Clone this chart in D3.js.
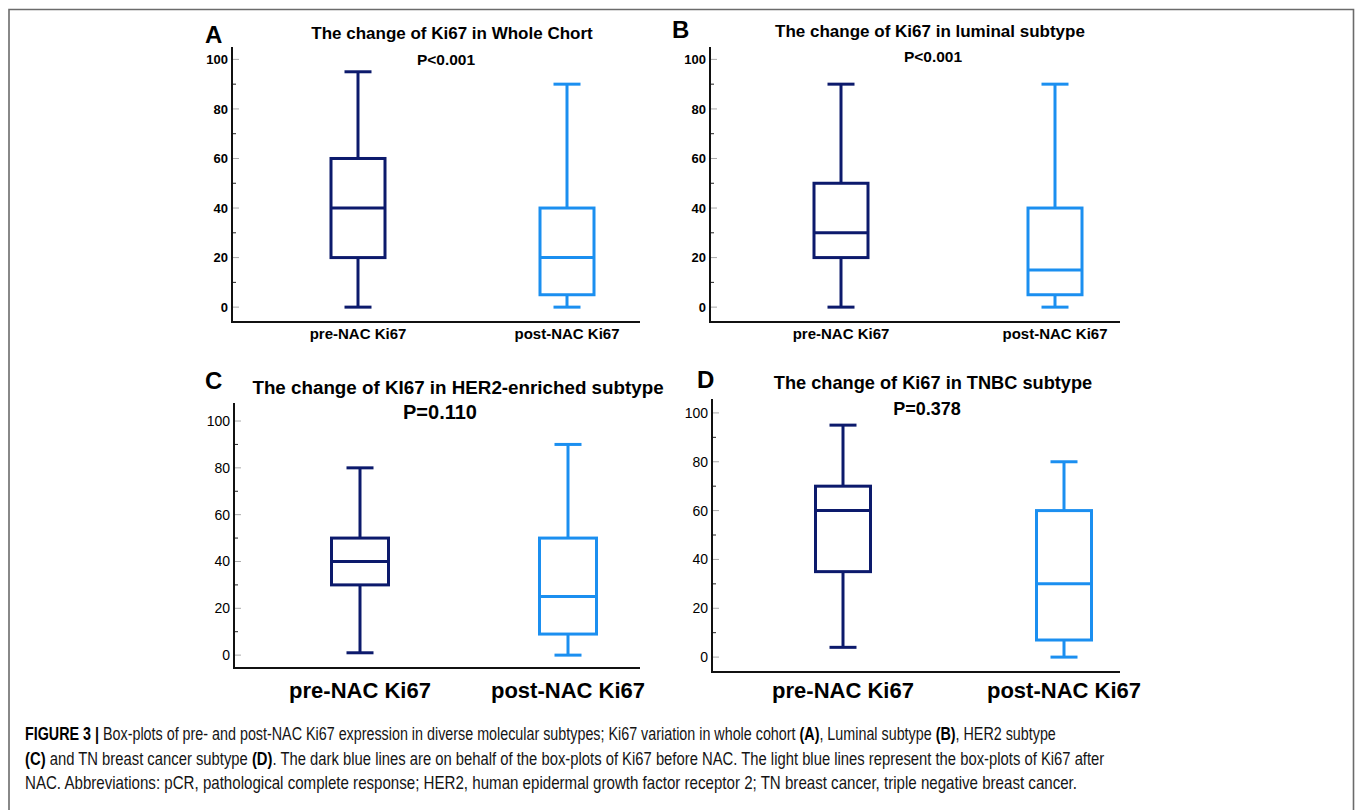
<!DOCTYPE html>
<html>
<head>
<meta charset="utf-8">
<script src="https://cdn.jsdelivr.net/npm/d3@7"></script>
<style>
  html, body { margin: 0; padding: 0; background: #fff; }
  svg { display: block; font-family: 'Liberation Sans', Arial, sans-serif; }
</style>
</head>
<body>
<div id="chart"></div>
<script>
'use strict';

// ------------ DATA ---------------- //

const CATEGORIES = ['pre-NAC Ki67', 'post-NAC Ki67'];
const LETTERS    = ['A', 'B', 'C', 'D'];
const TITLES     = [
    'The change of Ki67 in Whole Chort',
    'The change of Ki67 in luminal subtype',
    'The change of KI67 in HER2-enriched subtype',
    'The change of Ki67 in TNBC subtype'
];
const P_VALUES   = ['P<0.001', 'P<0.001', 'P=0.110', 'P=0.378'];

// [min, q1, median, q3, max]
const PRE_STATS  = [[0, 20, 40, 60, 95], [0, 20, 30, 50, 90], [1, 30, 40, 50, 80], [4, 35, 60, 70, 95]];
const POST_STATS = [[0, 5, 20, 40, 90], [0, 5, 15, 40, 90], [0, 9, 25, 50, 90], [0, 7, 30, 60, 80]];

const Y_TICKS       = [0, 20, 40, 60, 80, 100];
const Y_MINOR_TICKS = [10, 30, 50, 70, 90];

const CAPTION = [
    [['FIGURE 3 | ', true], ['Box-plots of pre- and post-NAC Ki67 expression in diverse molecular subtypes; Ki67 variation in whole cohort ', false],
     ['(A)', true], [', Luminal subtype ', false], ['(B)', true], [', HER2 subtype', false]],
    [['(C)', true], [' and TN breast cancer subtype ', false], ['(D)', true],
     ['. The dark blue lines are on behalf of the box-plots of Ki67 before NAC. The light blue lines represent the box-plots of Ki67 after', false]],
    [['NAC. Abbreviations: pCR, pathological complete response; HER2, human epidermal growth factor receptor 2; TN breast cancer, triple negative breast cancer.', false]]
];

// ------------ LAYOUT ---------------- //

const WIDTH  = 1357;
const HEIGHT = 810;
const COLORS = ['#0c1a6c', '#1b8ff0'];

const PANELS = [
    {axisX: 232, right: 640,  top: 47,  bottom: 322, domain: [-6, 105],     centers: [358, 567],  boxW: 54, capW: 27,
     tick: [13, 'bold'], titleSize: 17, pSize: 15.5, catSize: 15,
     letter: [205, 43], title: [452, 39], p: [446, 65], cat: 339},
    {axisX: 710, right: 1120, top: 47,  bottom: 322, domain: [-6, 105],     centers: [841, 1055], boxW: 54, capW: 27,
     tick: [13, 'bold'], titleSize: 17, pSize: 15.5, catSize: 15,
     letter: [672, 38], title: [930, 37], p: [933, 62], cat: 339},
    {axisX: 234, right: 640,  top: 403, bottom: 668, domain: [-5.5, 107.7], centers: [360, 568],  boxW: 57, capW: 27,
     tick: [14, 'normal'], titleSize: 18.8, pSize: 20, catSize: 22,
     letter: [205, 389], title: [458, 394], p: [440, 419], cat: 698},
    {axisX: 712, right: 1120, top: 399, bottom: 672, domain: [-6.1, 105.7], centers: [843, 1064], boxW: 55, capW: 27,
     tick: [14, 'normal'], titleSize: 18.2, pSize: 18, catSize: 22,
     letter: [697, 388], title: [933, 389], p: [927, 415], cat: 698}
];

// ---------------  DRAWING ------------- //

const svg = d3.select('#chart')
    .append('svg')
    .attr('width', WIDTH)
    .attr('height', HEIGHT);

// outer frame (no bottom edge)
svg.append('path')
    .attr('d', `M9,${HEIGHT} V9.5 H1353.5 V${HEIGHT}`)
    .attr('fill', 'none')
    .attr('stroke', '#6b6b6b')
    .attr('stroke-width', 1.6);

const drawPanel = (cfg, i) => {
    const g = svg.append('g');

    const y = d3.scaleLinear().domain(cfg.domain).range([cfg.bottom, cfg.top]);
    const x = d3.scalePoint().domain(CATEGORIES).range(cfg.centers);

    // y axis labels
    const yAxis = g.append('g')
        .attr('transform', `translate(${cfg.axisX},0)`)
        .call(d3.axisLeft(y).tickValues(Y_TICKS).tickSize(0).tickPadding(4));
    yAxis.select('.domain').remove();
    yAxis.selectAll('text')
        .attr('fill', '#000')
        .style('font-size', `${cfg.tick[0]}px`)
        .style('font-weight', cfg.tick[1]);

    // major ticks (grey) and minor ticks (dark), inside the axis
    g.append('g')
        .selectAll('line')
        .data(Y_TICKS)
        .join('line')
        .attr('x1', cfg.axisX).attr('x2', cfg.axisX + 7)
        .attr('y1', d => y(d)).attr('y2', d => y(d))
        .attr('stroke', '#aaa').attr('stroke-width', 1);

    g.append('g')
        .selectAll('line')
        .data(Y_MINOR_TICKS)
        .join('line')
        .attr('x1', cfg.axisX).attr('x2', cfg.axisX + 4)
        .attr('y1', d => y(d)).attr('y2', d => y(d))
        .attr('stroke', '#222').attr('stroke-width', 1);

    // axis lines
    g.append('path')
        .attr('d', `M${cfg.axisX},${cfg.top} V${cfg.bottom} H${cfg.right}`)
        .attr('fill', 'none')
        .attr('stroke', '#111')
        .attr('stroke-width', 2);

    // boxes
    [PRE_STATS[i], POST_STATS[i]].forEach((s, k) => {
        const cx = x(CATEGORIES[k]);
        const [mn, q1, med, q3, mx] = s;
        const bg = g.append('g')
            .attr('stroke', COLORS[k])
            .attr('stroke-width', 3)
            .attr('fill', 'none');

        bg.append('line').attr('x1', cx).attr('x2', cx).attr('y1', y(mx)).attr('y2', y(q3));
        bg.append('line').attr('x1', cx).attr('x2', cx).attr('y1', y(q1)).attr('y2', y(mn));
        bg.append('line').attr('x1', cx - cfg.capW / 2).attr('x2', cx + cfg.capW / 2).attr('y1', y(mx)).attr('y2', y(mx));
        bg.append('line').attr('x1', cx - cfg.capW / 2).attr('x2', cx + cfg.capW / 2).attr('y1', y(mn)).attr('y2', y(mn));
        bg.append('rect')
            .attr('x', cx - cfg.boxW / 2).attr('width', cfg.boxW)
            .attr('y', y(q3)).attr('height', y(q1) - y(q3));
        bg.append('line').attr('x1', cx - cfg.boxW / 2).attr('x2', cx + cfg.boxW / 2).attr('y1', y(med)).attr('y2', y(med));
    });

    // category labels
    g.selectAll('text.cat')
        .data(CATEGORIES)
        .join('text')
        .attr('class', 'cat')
        .attr('x', d => x(d))
        .attr('y', cfg.cat)
        .attr('text-anchor', 'middle')
        .style('font-size', `${cfg.catSize}px`)
        .style('font-weight', 'bold')
        .text(d => d);

    // titles
    g.append('text')
        .attr('x', cfg.title[0]).attr('y', cfg.title[1])
        .attr('text-anchor', 'middle')
        .style('font-size', `${cfg.titleSize}px`)
        .style('font-weight', 'bold')
        .text(TITLES[i]);

    g.append('text')
        .attr('x', cfg.p[0]).attr('y', cfg.p[1])
        .attr('text-anchor', 'middle')
        .style('font-size', `${cfg.pSize}px`)
        .style('font-weight', 'bold')
        .text(P_VALUES[i]);

    g.append('text')
        .attr('x', cfg.letter[0]).attr('y', cfg.letter[1])
        .style('font-size', '24px')
        .style('font-weight', 'bold')
        .text(LETTERS[i]);
};

PANELS.forEach(drawPanel);

// caption: condensed look through a horizontal scale
const CAPTION_ENDS = [1057, 1105, 1078];
CAPTION.forEach((parts, li) => {
    const t = svg.append('text')
        .attr('x', 0)
        .attr('y', 0)
        .style('font-size', '18.5px')
        .attr('fill', '#141414');
    parts.forEach(([txt, bold]) => {
        t.append('tspan')
            .style('font-weight', bold ? 'bold' : 'normal')
            .attr('fill', bold ? '#000' : '#141414')
            .text(txt);
    });
    const natural = t.node().getComputedTextLength();
    const k = (CAPTION_ENDS[li] - 25) / natural;
    t.attr('transform', `translate(25,${740 + li * 24.5}) scale(${k},1)`);
});
</script>
</body>
</html>
